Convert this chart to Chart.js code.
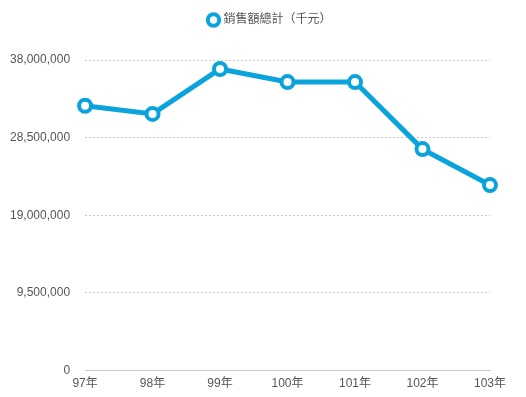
<!DOCTYPE html>
<html>
<head>
<meta charset="utf-8">
<script src="https://cdn.jsdelivr.net/npm/chart.js@4/dist/chart.umd.min.js"></script>
<style>
  html, body { margin: 0; padding: 0; background: #fff; }
  #wrap { width: 526px; height: 397px; }
</style>
</head>
<body>
<div id="wrap"><canvas id="myChart"></canvas></div>
<script>
// years (ROC calendar)
const labels = ['97年', '98年', '99年', '100年', '101年', '102年', '103年'];
// total sales, thousand NTD
const salesTotal = [32400000, 31400000, 36900000, 35300000, 35300000, 27100000, 22700000];
const seriesName = '銷售額總計（千元）';
const yMax = 38000000;
const yStep = 9500000;

const blue = '#0aa3dc';
const fontFamily = 'Helvetica, Arial, "Liberation Sans", "Noto Sans CJK TC", sans-serif';

Chart.defaults.font.family = fontFamily;
Chart.defaults.font.size = 12;
Chart.defaults.color = '#555';

const ctx = document.getElementById('myChart').getContext('2d');
new Chart(ctx, {
  type: 'line',
  data: {
    labels: labels,
    datasets: [{
      label: seriesName,
      data: salesTotal,
      borderColor: blue,
      backgroundColor: '#fff',
      borderWidth: 5,
      pointRadius: 6,
      pointBorderWidth: 4,
      pointBackgroundColor: '#fff',
      pointBorderColor: blue,
      pointHoverRadius: 6,
      tension: 0,
      fill: false
    }]
  },
  options: {
    responsive: true,
    maintainAspectRatio: false,
    animation: false,
    layout: { padding: { left: -5, right: 36, top: 0, bottom: 0 } },
    plugins: {
      legend: {
        position: 'top',
        labels: {
          usePointStyle: true,
          pointStyle: 'circle',
          boxWidth: 8,
          boxHeight: 8,
          padding: 12,
          color: '#555',
          font: { size: 12 }
        }
      },
      tooltip: { enabled: false }
    },
    scales: {
      x: {
        offset: false,
        grid: { drawOnChartArea: false, drawTicks: false },
        border: { display: true, color: '#c8c8c8', width: 1 },
        ticks: { padding: 6, color: '#555', maxRotation: 0 }
      },
      y: {
        min: 0,
        max: yMax,
        grid: { color: '#c8c8c8', drawTicks: false },
        border: { display: false, dash: [2, 2] },
        ticks: {
          stepSize: yStep,
          padding: 15,
          color: '#555',
          callback: v => v.toLocaleString('en-US')
        }
      }
    }
  },
  plugins: [{
    id: 'legendGap',
    beforeInit(chart) {
      const fit = chart.legend.fit;
      chart.legend.fit = function () {
        fit.bind(chart.legend)();
        this.height += 26;
      };
    },
    afterLayout(chart) {
      // nudge legend to match the reference position
      chart.legend.left += 28;
      chart.legend.right += 28;
      chart.legend.top += 2;
      chart.legend.bottom += 2;
    }
  }]
});
</script>
</body>
</html>
